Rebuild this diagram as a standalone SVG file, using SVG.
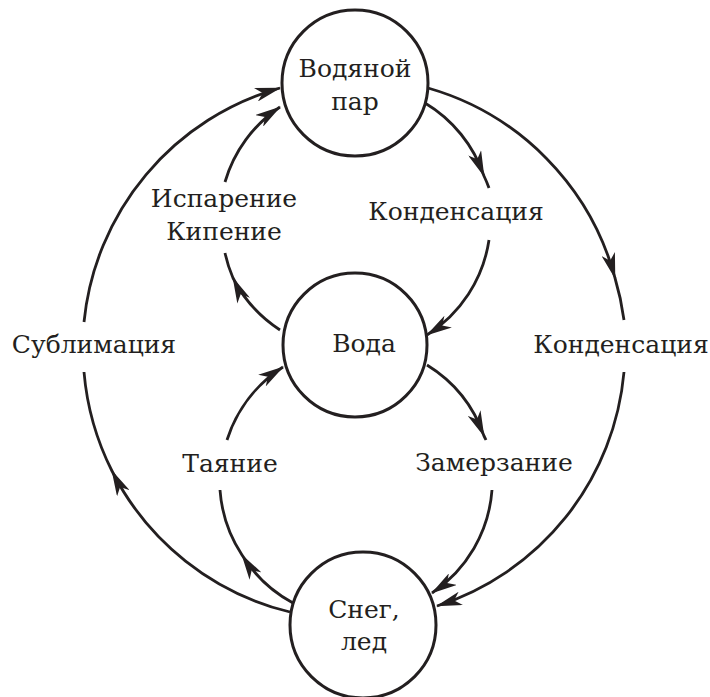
<svg xmlns="http://www.w3.org/2000/svg" width="710" height="697" viewBox="0 0 710 697">
<style>
.node circle{fill:#fff;stroke:#231f20;stroke-width:3}
.t{font-size:25px;fill:#231f20;text-anchor:middle}
.conn path{fill:none;stroke:#231f20;stroke-width:2.8}
.m{marker-mid:url(#ah)}
.e{marker-end:url(#ah)}
</style>
<defs>
<marker id="ah" markerUnits="userSpaceOnUse" viewBox="0 0 26 14" markerWidth="26" markerHeight="14" refX="25" refY="7" orient="auto">
<path d="M0,0 L26,7 L0,14 L7,7 Z" fill="#231f20"/>
</marker>
</defs>
<g id="connectors" class="conn">
<path class="e" d="M84,322 A271,271 0 0 1 280,88"/>
<path class="m" d="M290,612 A271,271 0 0 1 112,471 A271,271 0 0 1 84,372"/>
<path class="m" d="M428,88 A271,271 0 0 1 615,278 A271,271 0 0 1 624,320"/>
<path class="e" d="M624,372 A271,271 0 0 1 437,606"/>
<path class="m" d="M280,330 A136,136 0 0 1 233,278 A136,136 0 0 1 225,253"/>
<path class="e" d="M225,182 A136,136 0 0 1 280,107"/>
<path class="m" d="M425,103 A136,136 0 0 1 484,176 A136,136 0 0 1 489,188"/>
<path class="e" d="M489,240 A136,136 0 0 1 427,335"/>
<path class="e" d="M227,440 A136,136 0 0 1 283,367"/>
<path class="m" d="M293,603 A136,136 0 0 1 242,555 A136,136 0 0 1 220,490"/>
<path class="m" d="M427,365 A136,136 0 0 1 484,436 A136,136 0 0 1 486,440"/>
<path class="e" d="M492,490 A136,136 0 0 1 432,593"/>
</g>
<g class="t" font-family="'DejaVu Serif', serif">
<g id="vapor" class="node"><circle cx="355" cy="83" r="73"/><text x="355" y="77">Водяной</text><text x="355" y="110">пар</text></g>
<g id="water" class="node"><circle cx="355" cy="345" r="72"/><text x="364" y="352">Вода</text></g>
<g id="ice" class="node"><circle cx="363" cy="625" r="73"/><text x="364" y="618">Снег,</text><text x="364" y="650">лед</text></g>
<g id="labels">
<text x="224" y="207">Испарение</text>
<text x="224" y="240">Кипение</text>
<text x="94" y="353">Сублимация</text>
<text x="456" y="220">Конденсация</text>
<text x="621" y="353">Конденсация</text>
<text x="230" y="472">Таяние</text>
<text x="494" y="471">Замерзание</text>
</g>
</g>
</svg>
